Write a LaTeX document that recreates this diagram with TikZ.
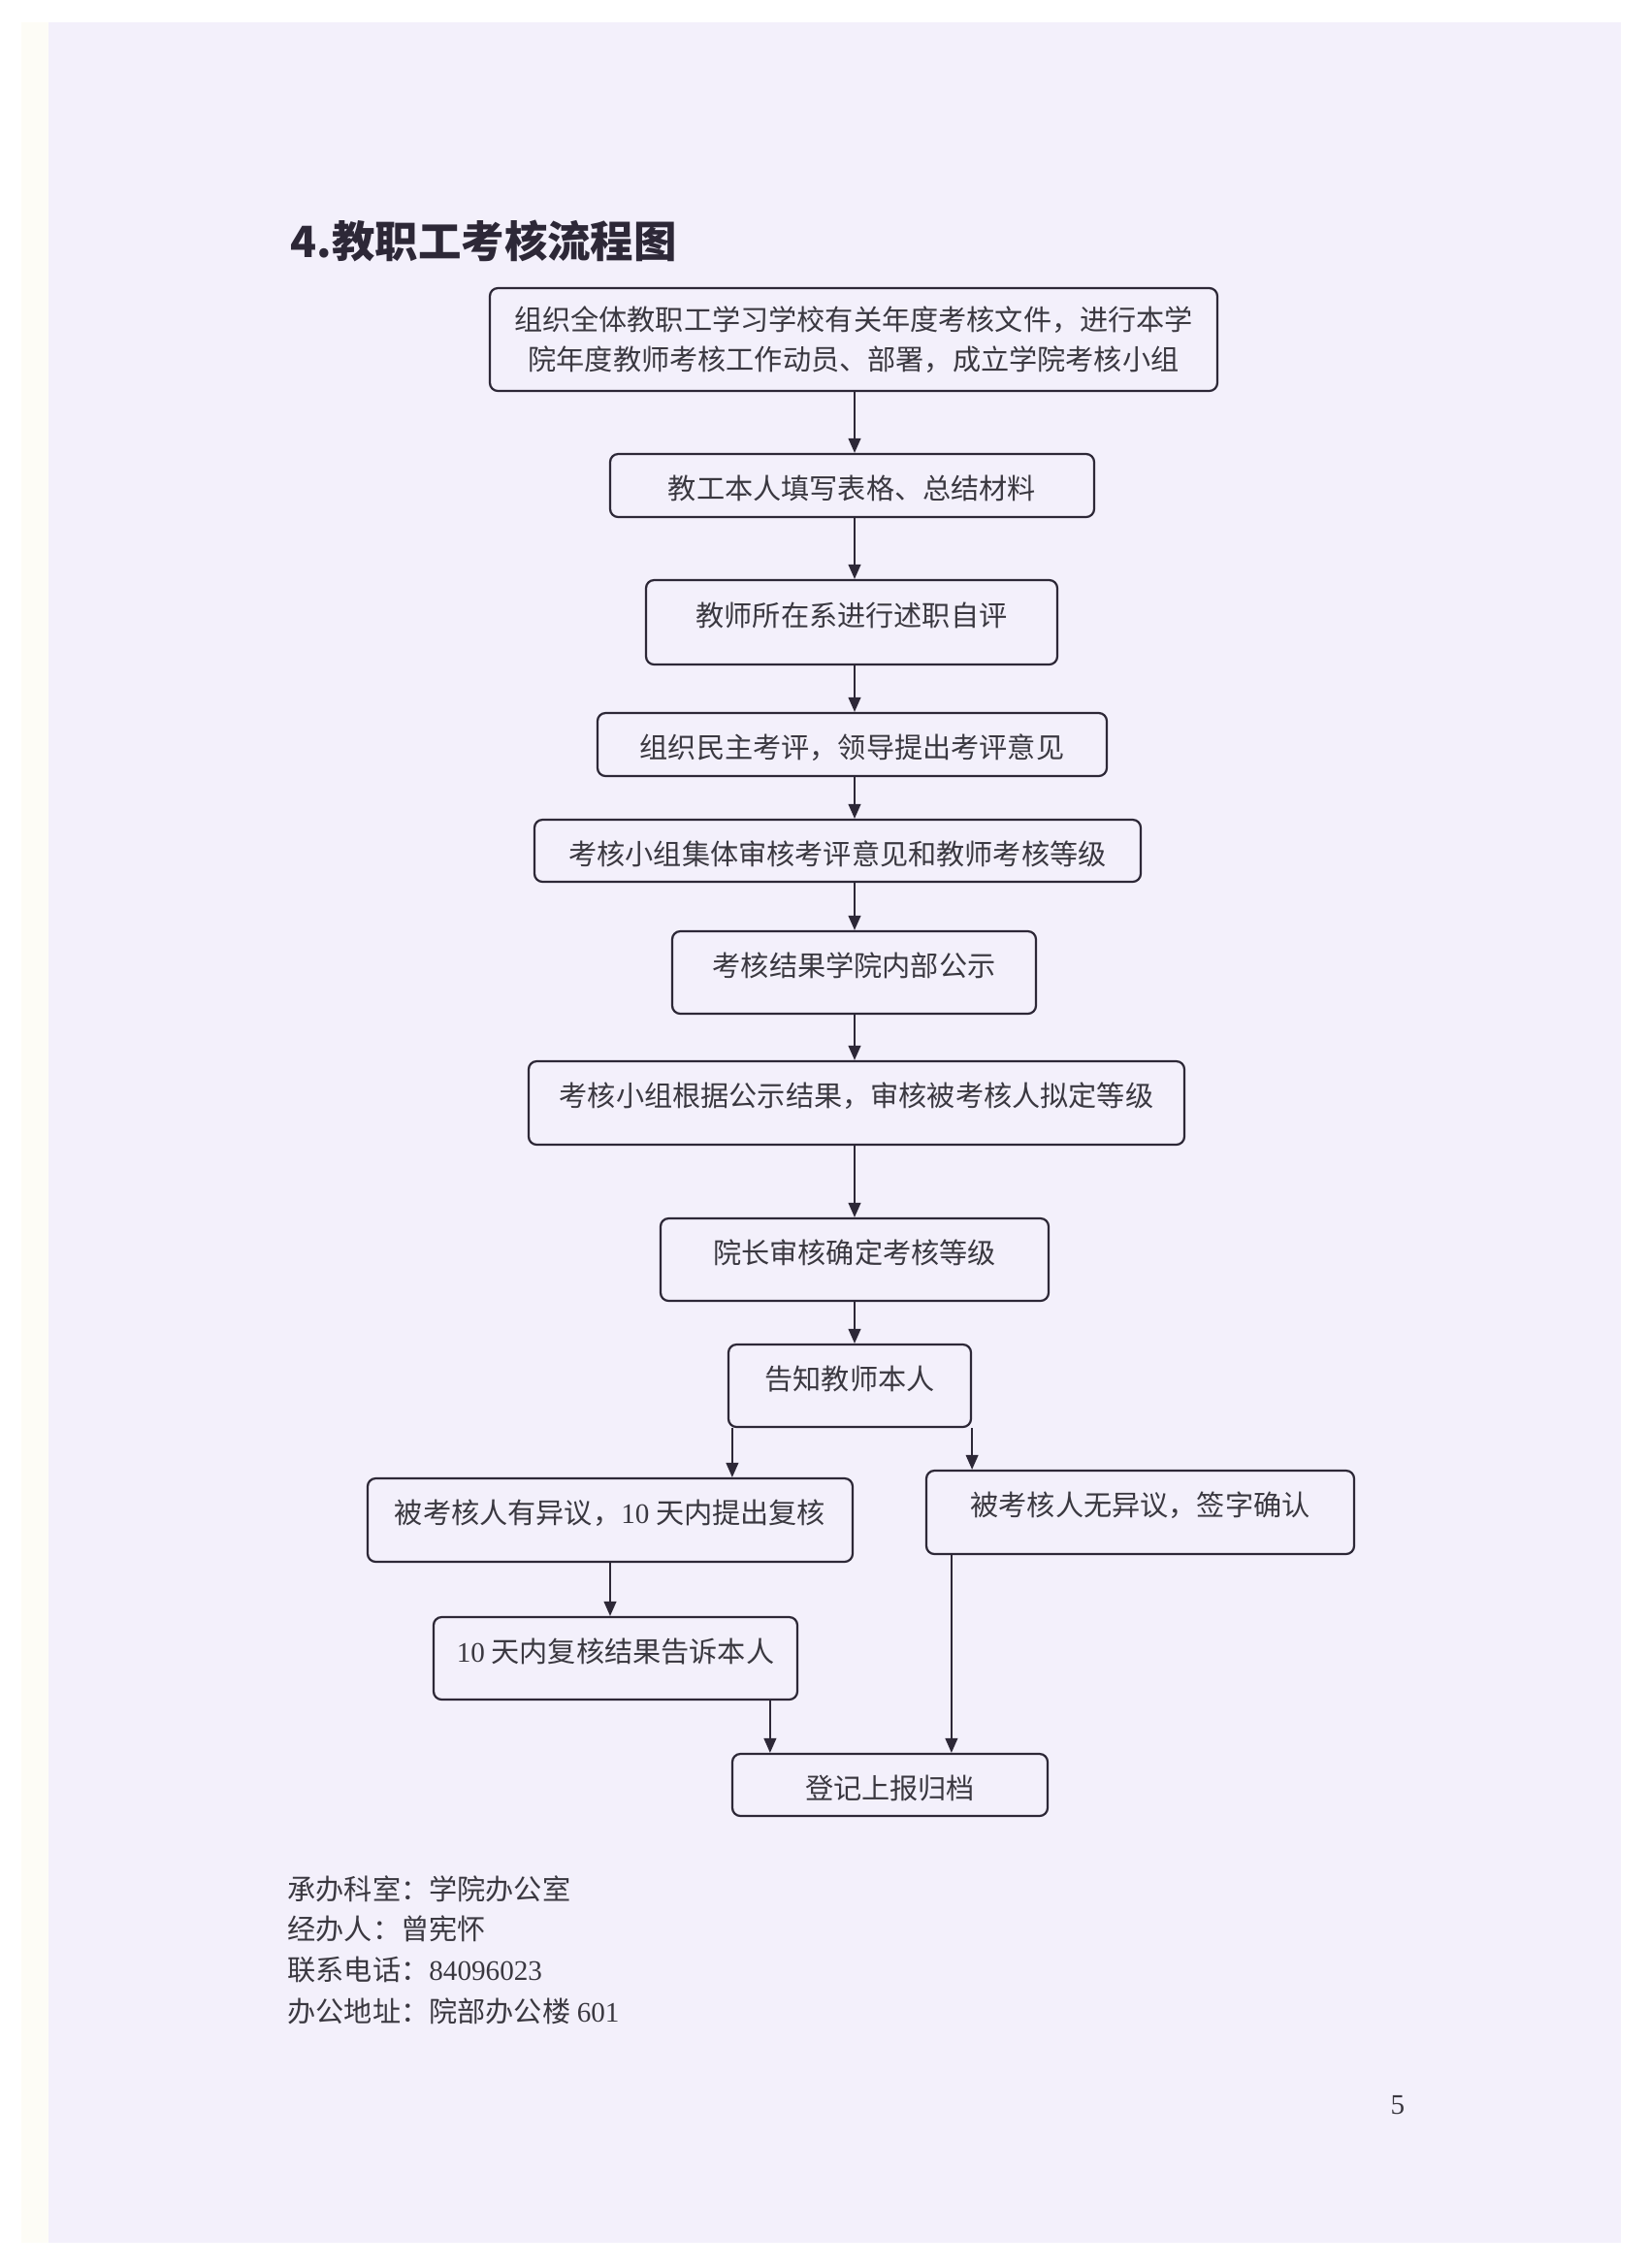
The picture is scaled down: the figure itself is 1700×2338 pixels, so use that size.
\documentclass[tikz,border=0pt]{standalone}
\usepackage{fontspec}
\setmainfont{Liberation Serif}
\newfontfamily\cjk{Noto Sans CJK SC}
\usetikzlibrary{arrows.meta,calc}

\definecolor{paper}{RGB}{243,240,251}
\definecolor{paperedge}{RGB}{253,252,246}
\definecolor{ink}{RGB}{45,40,55}
\definecolor{words}{RGB}{58,56,64}

\newcommand{\rmnum}[1]{{\rmfamily #1}}

\tikzset{
	box/.style={draw=ink, line width=0.8pt, rounded corners=3pt, inner sep=0pt, align=center, text=words, font={\cjk\fontsize{10.5}{15}\selectfont}},
	wh/.style 2 args={minimum width=#1*0.36pt, minimum height=#2*0.36pt},
	tall/.style={text height=9.2pt, text depth=6.6pt},
	flat/.style={text height=11.4pt, text depth=1.2pt},
	arr/.style={draw=ink, line width=0.6pt, -{Triangle[length=5.4pt,width=4.6pt]}},
	foot/.style={anchor=west, inner sep=0pt, text=words, font={\cjk\fontsize{10.5}{12}\selectfont}},
}

\begin{document}
\begin{tikzpicture}[x=0.36pt, y=-0.36pt]
			\fill[white](0,0) rectangle (1700,2338);
			\fill[paperedge](22,23) rectangle (50,2312);
			\fill[paper](50,23) rectangle (1671,2312);
			\useasboundingbox (0,0) rectangle (1700,2338);
			
			\node[anchor=west, inner sep=0pt, text=ink, font={\cjk\bfseries\fontsize{16}{18}\selectfont}](title) at (299,248) {4.教职工考核流程图};
			
			\node[box, wh={750}{106}](b1) at (880,350) {组织全体教职工学习学校有关年度考核文件，进行本学\\院年度教师考核工作动员、部署，成立学院考核小组};
			\node[box, flat, wh={499}{65}](b2) at (878.5,500.5) {教工本人填写表格、总结材料};
			\node[box, tall, wh={424}{87}](b3) at (878,641.5) {教师所在系进行述职自评};
			\node[box, flat, wh={525}{65}](b4) at (878.5,767.5) {组织民主考评，领导提出考评意见};
			\node[box, flat, wh={625}{64}](b5) at (863.5,877) {考核小组集体审核考评意见和教师考核等级};
			\node[box, tall, wh={375}{85}](b6) at (880.5,1002.5) {考核结果学院内部公示};
			\node[box, tall, wh={676}{86}](b7) at (883,1137) {考核小组根据公示结果，审核被考核人拟定等级};
			\node[box, tall, wh={400}{85}](b8) at (881,1298.5) {院长审核确定考核等级};
			\node[box, tall, wh={250}{85}](b9) at (876,1428.5) {告知教师本人};
			\node[box, tall, wh={500}{86}](b10) at (629,1567) {被考核人有异议，\rmnum{10} 天内提出复核};
			\node[box, tall, wh={441}{86}](b11) at (1175.5,1559) {被考核人无异议，签字确认};
			\node[box, tall, wh={375}{85}](b12) at (634.5,1709.5) {\rmnum{10} 天内复核结果告诉本人};
			\node[box, flat, wh={325}{64}](b13) at (917.5,1840) {登记上报归档};
			
			\coordinate[](spine) at (881,0);
			\draw[arr](b1.south -| spine) -- (b2.north -| spine);
			\draw[arr](b2.south -| spine) -- (b3.north -| spine);
			\draw[arr](b3.south -| spine) -- (b4.north -| spine);
			\draw[arr](b4.south -| spine) -- (b5.north -| spine);
			\draw[arr](b5.south -| spine) -- (b6.north -| spine);
			\draw[arr](b6.south -| spine) -- (b7.north -| spine);
			\draw[arr](b7.south -| spine) -- (b8.north -| spine);
			\draw[arr](b8.south -| spine) -- (b9.north -| spine);
			
			\coordinate[](lft) at ($(b9.south west)+(5,0)$);
			\coordinate[](rgt) at ($(b11.south west)+(27,0)$);
			\coordinate[](mid) at ($(b13.north west)+(40,0)$);
			\draw[arr](lft) -- (lft |- b10.north);
			\draw[arr](b9.south east) -- (b9.south east |- b11.north);
			\draw[arr](b10.south) -- (b10.south |- b12.north);
			\draw[arr](b12.south -| mid) -- (mid);
			\draw[arr](rgt) -- (rgt |- b13.north);
			
			\node[foot](f1) at (296,1947) {承办科室：学院办公室};
			\node[foot](f2) at (296,1988) {经办人：曾宪怀};
			\node[foot](f3) at (296,2031) {联系电话：\rmnum{84096023}};
			\node[foot](f4) at (296,2073) {办公地址：院部办公楼 \rmnum{601}};
			\node[inner sep=0pt, text=words, font={\fontsize{10.5}{12}\selectfont}](pg) at (1441,2170) {5};
\end{tikzpicture}
\end{document}
